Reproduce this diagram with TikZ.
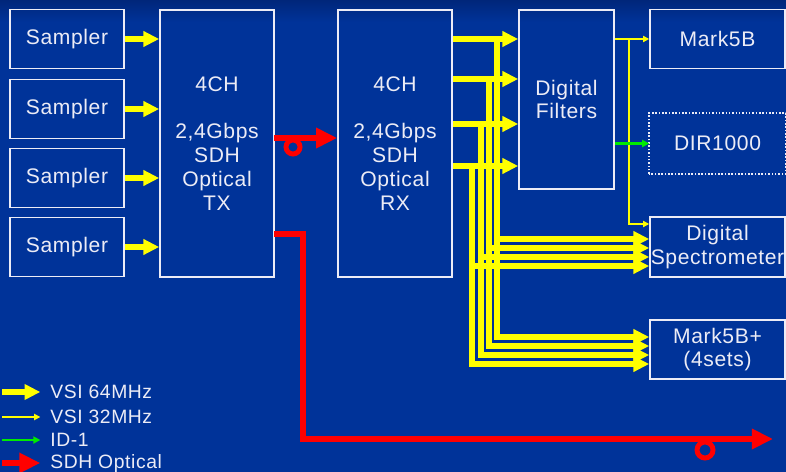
\documentclass[tikz,border=0pt]{standalone}
\usepackage{fontspec}
\setmainfont{Liberation Sans}[LetterSpace=3]
\usetikzlibrary{arrows.meta,positioning,calc}
\definecolor{bg}{RGB}{0,51,153}
\definecolor{bgtop}{RGB}{0,38,122}
\definecolor{vsiyel}{RGB}{255,255,0}
\definecolor{sdhred}{RGB}{255,0,0}
\definecolor{idgreen}{RGB}{0,235,0}
\definecolor{txt}{RGB}{236,236,246}

\begin{document}
\begin{tikzpicture}[x=0.02cm,y=-0.02cm,
  blk/.style={draw=txt,line width=0.9pt,text=txt,inner sep=0pt,align=center,font=\fontsize{12}{13.6}\selectfont},
  vsi/.style={vsiyel,line width=3.2pt,-{Triangle[length=9pt,width=8.5pt]}},
  vsithin/.style={vsiyel,line width=0.8pt,-{Triangle[length=3.5pt,width=3.5pt]}},
  idone/.style={idgreen,line width=1.2pt,-{Triangle[length=4pt,width=4pt]}},
  sdh/.style={sdhred,line width=3.6pt,-{Triangle[length=12pt,width=11pt]}},
  ring/.style={sdhred,line width=2.8pt},
  lgd/.style={text=txt,anchor=west,inner sep=0pt,font=\fontsize{11}{12}\selectfont}]
\useasboundingbox (0,0) rectangle (786,472);
\fill[bg] (0,0) rectangle (786,472);
\shade[top color=bgtop,bottom color=bg] (0,0) rectangle (786,22);

% samplers and the optical link
\foreach \i/\y in {1/39,2/109,3/178,4/247}
  \node[blk,minimum width=2.28cm,minimum height=1.18cm] (s\i) at (67,\y) {Sampler};
\node[blk,minimum width=2.28cm,minimum height=5.34cm] (tx) at (217,143.5)
  {4CH\\[13.6pt]2,4Gbps\\SDH\\Optical\\TX};
\node[blk,minimum width=2.28cm,minimum height=5.34cm] (rx) at (395,143.5)
  {4CH\\[13.6pt]2,4Gbps\\SDH\\Optical\\RX};
\node[blk,minimum width=1.9cm,minimum height=3.58cm] (filt) at (566.5,99.5) {Digital\\Filters};

% back ends
\node[blk,minimum width=2.7cm,minimum height=1.18cm] (mk5b) at (717.5,39) {Mark5B};
\node[blk,draw=none,minimum width=2.7cm,minimum height=1.18cm] (dir) at (717.5,143.5) {DIR1000};
\draw[txt,line width=0.9pt,densely dotted] (dir.south west) rectangle (dir.north east);
\node[blk,minimum width=2.7cm,minimum height=1.2cm] (spec) at (717.5,247) {Digital\\Spectrometer};
\node[blk,minimum width=2.7cm,minimum height=1.18cm] (mk5bp) at (717.5,349.5) {Mark5B+\\(4sets)};

\foreach \i in {1,...,4}
  \draw[vsi] (s\i.east) -- (s\i.east -| tx.west);

% VSI bus out of the receiver
\foreach \i/\y/\xb/\ys/\ym in {1/39/497/239/337,2/79/489/248/346,3/124/481/257/355,4/166/472/266/364} {
  \coordinate (bt\i) at (\xb,\y);
  \coordinate (bs\i) at (\xb,\ys);
  \coordinate (bm\i) at (\xb,\ym);
  \draw[vsi] (rx.east |- bt\i) -- (filt.west |- bt\i);
  \draw[vsi] (bt\i) -- (bm\i) -- (mk5bp.west |- bm\i);
  \draw[vsi] (bs\i) -- (spec.west |- bs\i);
}

% filter outputs
\coordinate (t1) at (629,39);
\coordinate (t2) at (629,224);
\draw[vsithin] (filt.east |- t1) -- (mk5b.west |- t1);
\draw[vsithin] (t1) -- (t2) -- (spec.west |- t2);
\draw[idone] (filt.east |- dir.west) -- (dir.west);

% SDH optical
\coordinate (o1) at (274,138);
\draw[sdh] (o1) -- (rx.west |- o1);
\draw[ring] (293,147) circle[radius=7];
\coordinate (o2) at (274,234);
\coordinate (r1) at (303,234);
\coordinate (r2) at (303,439);
\coordinate (fibre) at (773,439);
\draw[sdh] (o2) -- (r1) -- (r2) -- (fibre);
\draw[ring] (705,450) circle[radius=8];

% legend
\node[lgd] (lg1) at (50,392) {VSI 64MHz};
\node[lgd] (lg2) at (50,417) {VSI 32MHz};
\node[lgd] (lg3) at (50,440) {ID-1};
\node[lgd] (lg4) at (50,463) {SDH Optical};
\foreach \i in {1,...,4}
  \coordinate (l\i) at (2,0 |- lg\i.west);
\draw[vsi,shorten >=5.5pt] (l1) -- (lg1.west);
\draw[vsithin,shorten >=5.5pt] (l2) -- (lg2.west);
\draw[idone,shorten >=5.5pt] (l3) -- (lg3.west);
\draw[sdh,shorten >=5.5pt] (l4) -- (lg4.west);
\end{tikzpicture}
\end{document}
